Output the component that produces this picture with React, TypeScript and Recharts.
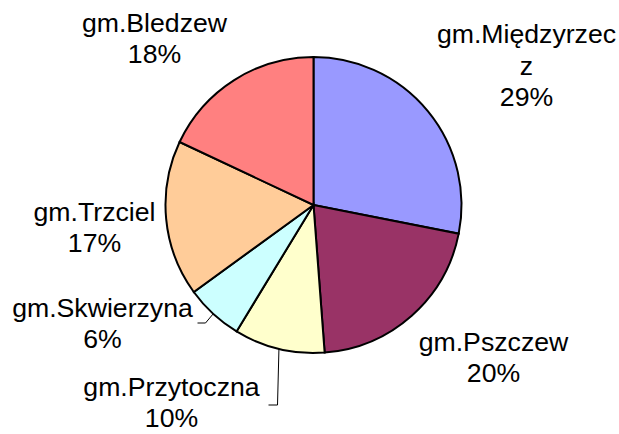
import { PieChart, Pie, Cell } from "recharts";

// gminy, clockwise from 12 o'clock
const names = ["gm.Międzyrzecz", "gm.Pszczew", "gm.Przytoczna", "gm.Skwierzyna", "gm.Trzciel", "gm.Bledzew"];
// slice sizes as drawn
const shares = [28.1, 20.7, 9.9, 6.3, 17.0, 18.0];
// percentages as printed in the labels
const pctLabels = ["29%", "20%", "10%", "6%", "17%", "18%"];
const colors = ["#9999FF", "#993366", "#FFFFCC", "#CCFFFF", "#FFCC99", "#FF8080"];

const data = names.map((name, i) => ({ name, value: shares[i], pct: pctLabels[i] }));

// label block centre, relative to pie centre
const labelOffset = [
  [213, -140],
  [180, 152],
  [-142, 197],
  [-211, 118],
  [-219, 22],
  [-159, -167],
];
// leader lines: [elbow dx, end dx, dy] relative to label centre (null = none)
const leaders: (number[] | null)[] = [null, null, [106, 97, 3], [103, 95, 0], null, null];

const FONT = "'Liberation Sans', Arial, sans-serif";
const FS = 26.67;
const LH = 31.5;
const RAD = Math.PI / 180;

const wrap = (s: string, n = 13) => {
  const out: string[] = [];
  for (let i = 0; i < s.length; i += n) out.push(s.slice(i, i + n));
  return out;
};

const renderLabel = (p: any) => {
  const { cx, cy, midAngle, outerRadius, index } = p;
  const [dx, dy] = labelOffset[index];
  const lx = cx + dx;
  const ly = cy + dy;
  const lines = [...wrap(names[index]), pctLabels[index]];
  const lead = leaders[index];
  const ex = cx + outerRadius * Math.cos(-midAngle * RAD);
  const ey = cy + outerRadius * Math.sin(-midAngle * RAD);
  return (
    <g key={`lbl-${index}`}>
      {lead && (
        <path
          d={`M${ex},${ey} L${lx + lead[0]},${ly + lead[2]} L${lx + lead[1]},${ly + lead[2]}`}
          stroke="#000"
          strokeWidth={1}
          fill="none"
        />
      )}
      <text x={lx} textAnchor="middle" fontFamily={FONT} fontSize={FS} fill="#000">
        {lines.map((t, i) => (
          <tspan key={i} x={lx} y={ly + (i - (lines.length - 1) / 2) * LH + 9.5}>
            {t}
          </tspan>
        ))}
      </text>
    </g>
  );
};

export default function App() {
  return (
    <div style={{ position: "absolute", left: 0, top: 0, width: 619, height: 434, background: "#fff" }}>
      <PieChart width={619} height={434} margin={{ top: 0, right: 0, bottom: 0, left: 0 }}>
        <Pie
          data={data}
          dataKey="value"
          nameKey="name"
          cx={313.5}
          cy={205}
          outerRadius={148}
          startAngle={90}
          endAngle={-270}
          stroke="#000"
          strokeWidth={2}
          label={renderLabel}
          labelLine={false}
          isAnimationActive={false}
        >
          {data.map((d, i) => (
            <Cell key={d.name} fill={colors[i]} />
          ))}
        </Pie>
      </PieChart>
    </div>
  );
}
